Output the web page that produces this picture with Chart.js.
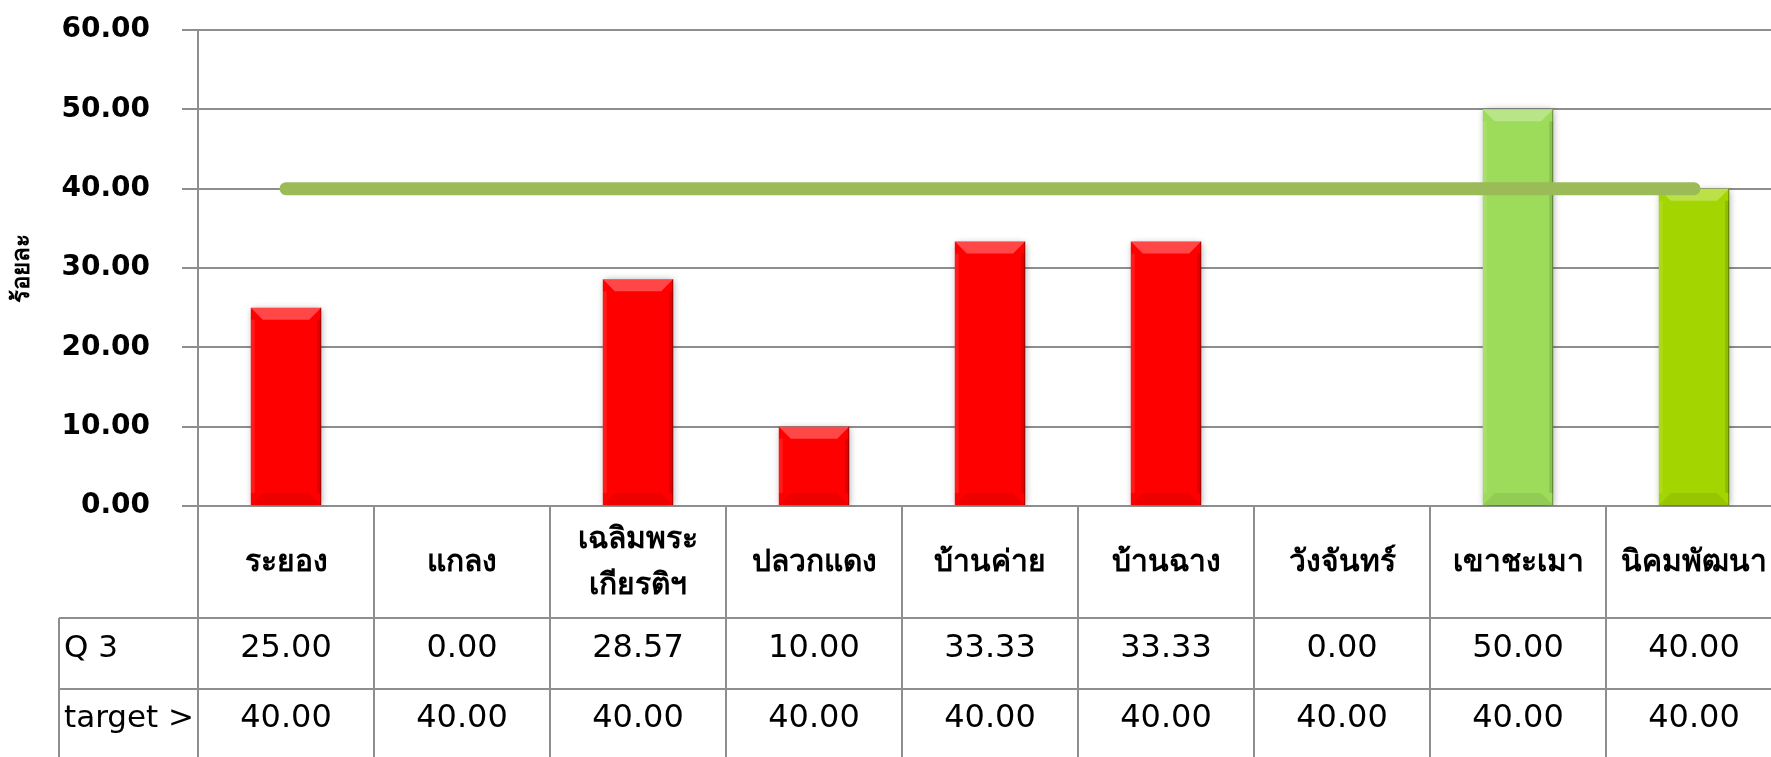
<!DOCTYPE html>
<html>
<head>
<meta charset="utf-8">
<script src="https://cdn.jsdelivr.net/npm/chart.js@4.4.1/dist/chart.umd.min.js"></script>
<style>
    html, body { margin: 0; padding: 0; background: #fff; overflow: hidden; }
    #grafico { position: absolute; left: 0; top: 0; }
</style>
</head>
<body>
<canvas id="grafico" width="1782" height="757"></canvas>
<script>
// dados
const categorias = ['ระยอง', 'แกลง', ['เฉลิมพระ', 'เกียรติฯ'], 'ปลวกแดง', 'บ้านค่าย', 'บ้านฉาง', 'วังจันทร์', 'เขาชะเมา', 'นิคมพัฒนา'];
const valoresQ3 = [25.00, 0.00, 28.57, 10.00, 33.33, 33.33, 0.00, 50.00, 40.00];
const valoresTarget = [40.00, 40.00, 40.00, 40.00, 40.00, 40.00, 40.00, 40.00, 40.00];
const nomeSerieQ3 = 'Q 3';
const nomeSerieTarget = 'target >';
const eixoY = { min: 0, max: 60, passo: 10, titulo: 'ร้อยละ' };

// estilos
const coresBarras = ['#FF0000', '#FF0000', '#FF0000', '#FF0000', '#FF0000', '#FF0000', '#FF0000', '#9DDC5B', '#A3D600'];
const corGrade = '#8e8e8e';
const fonteNum = '"DejaVu Sans", "Noto Sans", sans-serif';
const IDX_BARRAS = 1;

// sombra e bisel das barras
const sombraBarras = {
    id: 'sombraBarras',
    beforeDatasetDraw(chart, args) {
        if (args.index !== IDX_BARRAS) return;
        const ctx = chart.ctx;
        ctx.save();
        ctx.shadowColor = 'rgba(0,0,0,0.35)';
        ctx.shadowBlur = 7;
        ctx.shadowOffsetX = 1;
        ctx.shadowOffsetY = 1;
    },
    afterDatasetDraw(chart, args) {
        if (args.index !== IDX_BARRAS) return;
        const ctx = chart.ctx;
        ctx.restore();
        chart.getDatasetMeta(IDX_BARRAS).data.forEach(bar => {
            const { x, y, base, width } = bar.getProps(['x', 'y', 'base', 'width'], true);
            const l = x - width / 2, r = x + width / 2, t = y, b = base;
            if (b - t < 2) return;
            const bv = Math.min(12, (b - t) / 2), lado = 4;
            ctx.save();
            ctx.fillStyle = 'rgba(255,255,255,0.28)';
            ctx.beginPath();
            ctx.moveTo(l, t); ctx.lineTo(r, t); ctx.lineTo(r - bv, t + bv); ctx.lineTo(l + bv, t + bv);
            ctx.closePath(); ctx.fill();
            ctx.fillStyle = 'rgba(255,255,255,0.10)';
            ctx.fillRect(l, t + bv, lado, b - t - 2 * bv);
            ctx.fillStyle = 'rgba(0,0,0,0.12)';
            ctx.fillRect(r - lado, t + bv, lado, b - t - 2 * bv);
            ctx.fillStyle = 'rgba(0,0,0,0.07)';
            ctx.beginPath();
            ctx.moveTo(l, b); ctx.lineTo(r, b); ctx.lineTo(r - bv, b - bv); ctx.lineTo(l + bv, b - bv);
            ctx.closePath(); ctx.fill();
            ctx.strokeStyle = 'rgba(0,0,0,0.35)';
            ctx.lineWidth = 1;
            ctx.beginPath();
            ctx.moveTo(r - 0.5, t); ctx.lineTo(r - 0.5, b);
            ctx.stroke();
            ctx.restore();
        });
    }
};

// tabela de dados abaixo do gráfico
const tabelaDados = {
    id: 'tabelaDados',
    afterDraw(chart) {
        const ctx = chart.ctx;
        const xs = chart.scales.x;
        const area = chart.chartArea;
        const n = categorias.length;
        const w = xs.width / n;
        const linhas = [area.bottom, area.bottom + 112, area.bottom + 183, area.bottom + 254];
        const esq = 59;

        ctx.save();
        ctx.strokeStyle = corGrade;
        ctx.lineWidth = 2;
        ctx.beginPath();
        for (let i = 0; i <= n; i++) {
            const px = xs.left + i * w;
            ctx.moveTo(px, i === 0 ? area.top : linhas[0]);
            ctx.lineTo(px, linhas[3]);
        }
        ctx.moveTo(esq, linhas[1]); ctx.lineTo(esq, linhas[3]);
        ctx.moveTo(esq, linhas[1]); ctx.lineTo(xs.right, linhas[1]);
        ctx.moveTo(esq, linhas[2]); ctx.lineTo(xs.right, linhas[2]);
        ctx.stroke();

        ctx.fillStyle = '#000';
        ctx.textBaseline = 'middle';
        ctx.textAlign = 'center';
        categorias.forEach((c, i) => {
            const cx = xs.left + (i + 0.5) * w;
            const partes = Array.isArray(c) ? c : [c];
            const meio = (linhas[0] + linhas[1]) / 2;
            ctx.font = 'bold 30px "Noto Sans", sans-serif';
            partes.forEach((p, k) => {
                ctx.fillText(p, cx, meio + (k - (partes.length - 1) / 2) * 46);
            });
            ctx.font = '32px ' + fonteNum;
            ctx.fillText(valoresQ3[i].toFixed(2), cx, (linhas[1] + linhas[2]) / 2 - 5);
            ctx.fillText(valoresTarget[i].toFixed(2), cx, (linhas[2] + linhas[3]) / 2 - 6);
        });
        ctx.textAlign = 'left';
        ctx.font = '31px ' + fonteNum;
        ctx.fillText(nomeSerieQ3, esq + 5, (linhas[1] + linhas[2]) / 2 - 5);
        ctx.fillText(nomeSerieTarget, esq + 5, (linhas[2] + linhas[3]) / 2 - 6);
        ctx.restore();
    }
};

const ctx = document.getElementById('grafico').getContext('2d');
new Chart(ctx, {
    data: {
        labels: categorias,
        datasets: [{
            type: 'line',
            label: nomeSerieTarget,
            data: valoresTarget,
            borderColor: '#9BBB59',
            borderWidth: 13,
            borderCapStyle: 'round',
            pointRadius: 0,
            fill: false,
            order: 1
        }, {
            type: 'bar',
            label: nomeSerieQ3,
            data: valoresQ3,
            backgroundColor: coresBarras,
            borderWidth: 0,
            categoryPercentage: 0.8,
            barPercentage: 0.5,
            order: 2
        }]
    },
    options: {
        responsive: false,
        animation: false,
        devicePixelRatio: 1,
        layout: { padding: { top: 30, bottom: 251, left: 0, right: 0 } },
        plugins: { legend: { display: false }, tooltip: { enabled: false } },
        scales: {
            x: { display: false },
            y: {
                min: eixoY.min,
                max: eixoY.max,
                afterFit: s => { s.width = 198; s.paddingTop = 0; s.paddingBottom = 0; },
                ticks: {
                    stepSize: eixoY.passo,
                    padding: 32,
                    color: '#000',
                    font: { family: fonteNum, size: 28, weight: 'bold' },
                    callback: v => v.toFixed(2)
                },
                grid: { color: corGrade, lineWidth: 2, tickLength: 16 },
                border: { display: true, color: corGrade, width: 2 },
                title: {
                    display: true,
                    text: eixoY.titulo,
                    color: '#000',
                    font: { family: '"Noto Sans", sans-serif', size: 24, weight: 'bold' },
                    padding: { top: 8, bottom: 0 }
                }
            }
        }
    },
    plugins: [sombraBarras, tabelaDados]
});
</script>
</body>
</html>
